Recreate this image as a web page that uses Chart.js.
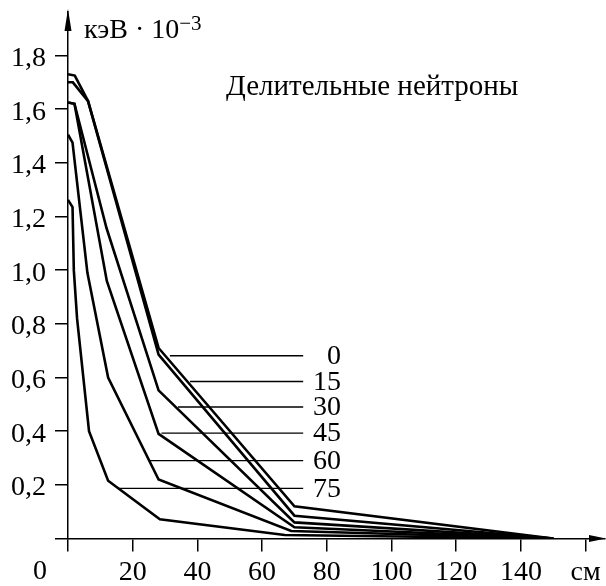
<!DOCTYPE html>
<html><head><meta charset="utf-8">
<script src="https://cdn.jsdelivr.net/npm/chart.js@4.4.1/dist/chart.umd.min.js"></script>
<style>html,body{margin:0;padding:0;background:#fff}canvas{display:block}</style>
</head><body>
<canvas id="c" width="606" height="586"></canvas>
<script>
// ---- data (cm, keV·10^-3) ----
const seriesNames = ['0', '15', '30', '45', '60', '75'];
const curve0  = [[0,1.73],[2.1,1.725],[6.2,1.63],[28,0.71],[70,0.12],[150,0]];
const curve15 = [[0,1.70],[1.5,1.70],[6.2,1.63],[28,0.685],[70,0.085],[150,0]];
const curve30 = [[0,1.625],[2,1.62],[11.9,1.157],[28,0.552],[70,0.06],[150,0]];
const curve45 = [[0,1.625],[2,1.62],[12,0.96],[28,0.39],[70,0.042],[150,0]];
const curve60 = [[0,1.505],[1.4,1.475],[6,0.99],[12.4,0.60],[28,0.22],[69,0.028],[150,0]];
const curve75 = [[0,1.262],[1.4,1.235],[1.8,1.0],[2.8,0.82],[6.5,0.40],[12.4,0.215],[28.4,0.072],[67,0.013],[150,0]];
const curves = [curve0, curve15, curve30, curve45, curve60, curve75];
const leaderY     = [0.681, 0.585, 0.49, 0.393, 0.29, 0.187];
const leaderStart = [31.5, 37.7, 34, 28.9, 25.3, 15.5];
const leaderEnd   = 72.7;
const labelAtX    = 84.4;
const xTicks      = [0, 20, 40, 60, 80, 100, 120, 140, 160];
const xTickLabels = ['', '20', '40', '60', '80', '100', '120', '140', 'см'];
const yTicks      = [0, 0.2, 0.4, 0.6, 0.8, 1.0, 1.2, 1.4, 1.6, 1.8];
const yTickLabels = ['', '0,2', '0,4', '0,6', '0,8', '1,0', '1,2', '1,4', '1,6', '1,8'];
const originLabel = '0';
const unitText = 'кэВ · 10';
const unitExp = '−3';
const titleText = 'Делительные нейтроны';
const xMax = 166, yMax = 1.962;

// ---- chart ----
const FAM = "'Liberation Serif', 'Times New Roman', serif";
const FONT = {family: FAM, size: 28};
const datasets = [];
curves.forEach((c, i) => datasets.push({
  label: seriesNames[i],
  data: c.map(([x, y]) => ({x, y})),
  showLine: true, borderColor: '#000', borderWidth: 2.6,
  pointRadius: 0, tension: 0, fill: false, borderJoinStyle: 'miter'
}));
leaderY.forEach((y, i) => datasets.push({
  data: [{x: leaderStart[i], y}, {x: leaderEnd, y}],
  showLine: true, borderColor: '#000', borderWidth: 1.3, pointRadius: 0
}));

const decor = {
  id: 'decor',
  afterDraw(chart) {
    const {ctx, chartArea: a, scales: {x, y}} = chart;
    ctx.save();
    ctx.fillStyle = '#000';
    // y arrow
    ctx.beginPath();
    ctx.moveTo(a.left, a.top - 3);
    ctx.lineTo(a.left - 3.5, a.top + 19);
    ctx.lineTo(a.left + 3.5, a.top + 19);
    ctx.closePath(); ctx.fill();
    // x arrow
    const y0 = y.getPixelForValue(0);
    ctx.beginPath();
    ctx.moveTo(606, y0);
    ctx.lineTo(589, y0 - 3.5);
    ctx.lineTo(589, y0 + 3.5);
    ctx.closePath(); ctx.fill();
    // origin label
    ctx.font = `28px ${FAM}`;
    ctx.textAlign = 'center'; ctx.textBaseline = 'middle';
    ctx.fillText(originLabel, 40, 572);
    // unit label
    ctx.textAlign = 'left'; ctx.textBaseline = 'alphabetic';
    ctx.fillText(unitText, 84, 38);
    const w = ctx.measureText(unitText).width;
    ctx.font = `21px ${FAM}`;
    ctx.fillText(unitExp, 84 + w, 30);
    // title
    ctx.font = `29px ${FAM}`;
    ctx.fillText(titleText, 226, 95);
    // curve labels
    ctx.font = `28px ${FAM}`;
    ctx.textAlign = 'right'; ctx.textBaseline = 'middle';
    leaderY.forEach((v, i) => {
      ctx.fillText(seriesNames[i], x.getPixelForValue(labelAtX), y.getPixelForValue(v) + 1);
    });
    ctx.restore();
  }
};

function zeroPad(s) { s.paddingTop = 0; s.paddingBottom = 0; s.paddingLeft = 0; s.paddingRight = 0; }

new Chart(document.getElementById('c'), {
  type: 'scatter',
  data: {datasets},
  options: {
    responsive: false, animation: false, devicePixelRatio: 1,
    layout: {padding: {top: 12, right: 1, left: 0, bottom: 0}},
    plugins: {legend: {display: false}, tooltip: {enabled: false}},
    scales: {
      x: {
        type: 'linear', min: 0, max: xMax,
        afterBuildTicks: s => { s.ticks = xTicks.map(v => ({value: v})); },
        afterFit: s => { s.height = 47.5; zeroPad(s); },
        ticks: {callback: (v, i) => xTickLabels[i], font: FONT, color: '#000', padding: 4, maxRotation: 0, autoSkip: false},
        grid: {drawOnChartArea: false, tickLength: 13, color: '#000', lineWidth: 1.5},
        border: {color: '#000', width: 1.5}
      },
      y: {
        type: 'linear', min: 0, max: yMax,
        afterBuildTicks: s => { s.ticks = yTicks.map(v => ({value: v})); },
        afterFit: s => { s.width = 68; zeroPad(s); },
        ticks: {callback: (v, i) => yTickLabels[i], font: FONT, color: '#000', padding: 9, labelOffset: 3, autoSkip: false},
        grid: {drawOnChartArea: false, tickLength: 13, color: '#000', lineWidth: 1.5},
        border: {color: '#000', width: 1.5}
      }
    }
  },
  plugins: [decor]
});
</script>
</body></html>
